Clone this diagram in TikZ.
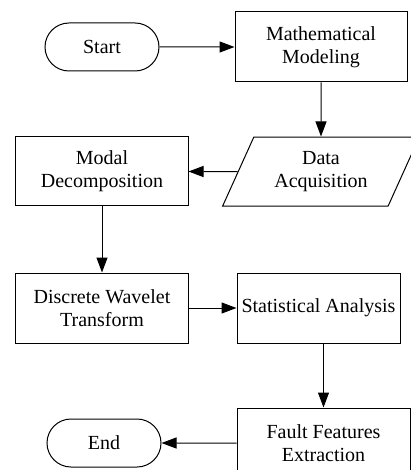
\documentclass[tikz,border=0pt]{standalone}
\usepackage{fontspec}
\setmainfont{Liberation Serif}
\usepackage{tikz}
\usetikzlibrary{positioning,shapes.misc,shapes.geometric,arrows.meta}
\tikzset{basic/.style={draw,line width=1pt,align=center,font=\fontsize{20pt}{23pt}\selectfont,inner sep=2pt}}
\tikzset{terminal/.style={basic,rounded rectangle,minimum width=118pt,minimum height=48pt}}
\tikzset{process/.style={basic,rectangle,minimum width=172pt,minimum height=70pt}}
\tikzset{io/.style={basic,trapezium,trapezium left angle=63,trapezium right angle=117,trapezium stretches=true,minimum width=197pt,minimum height=69pt}}
\tikzset{arr/.style={line width=1pt,-{Triangle[length=15pt,width=11pt]}}}

\begin{document}
\begin{tikzpicture}
		\useasboundingbox (-102pt,47pt) rectangle (308pt,-423pt);
		\node[terminal] (start) {Start};
		\node[process,right=75pt of start] (model) {Mathematical\\Modeling};
		\path[draw,arr] (start) -- (model);
		\node[io,below=54pt of model] (data) {Data\\Acquisition};
		\path[draw,arr] (model) -- (data);
		\node[process,below=65pt of start,minimum height=69pt] (modal) {Modal\\Decomposition};
		\path[draw,arr] (data) -- (modal);
		\node[process,below=66pt of modal] (dwt) {Discrete Wavelet\\Transform};
		\path[draw,arr] (modal) -- (dwt);
		\node[process,right=48pt of dwt,minimum width=163pt] (stat) {Statistical Analysis};
		\path[draw,arr] (dwt) -- (stat);
		\node[process,below=64pt of stat.south west,anchor=north west,minimum width=173pt] (fault) {Fault Features\\Extraction};
		\path[draw,arr] (fault.north |- stat.south) -- (fault.north);
		\node[terminal,left=75pt of fault] (end) {End};
		\path[draw,arr] (fault) -- (end);
	\end{tikzpicture}
\end{document}
